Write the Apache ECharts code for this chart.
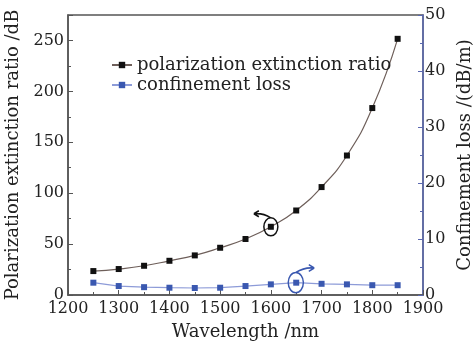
<!DOCTYPE html>
<html>
<head>
<meta charset="utf-8">
<script src="https://cdn.jsdelivr.net/npm/echarts@6/dist/echarts.min.js"></script>
<style>
  html, body { margin: 0; padding: 0; background: #fff; }
  #chart { width: 473px; height: 348px; }
</style>
</head>
<body>
<div id="chart"></div>
<script>
// wavelengths (nm)
const wavelengths = [1250, 1300, 1350, 1400, 1450, 1500, 1550, 1600, 1650, 1700, 1750, 1800, 1850];
// polarization extinction ratio (dB), left axis
const extinctionRatio = [23.5, 25.5, 28.7, 33.6, 38.9, 46.4, 55, 67, 83, 106, 137, 183.6, 251.6];
// confinement loss (dB/m), right axis
const confinementLoss = [2.2, 1.6, 1.4, 1.3, 1.25, 1.3, 1.6, 1.9, 2.2, 2.0, 1.9, 1.75, 1.75];

const FONT = "DejaVu Serif";
const TEXT = "#222";
const AXIS_GRAY = "#555";
const AXIS_BLUE = "#5a68b0";

// ring with a curved arrow leaving to the left / right
const ringLeft = "path://M27 26A7 9 0 1 1 13 26A7 9 0 1 1 27 26ZM20 17Q12 12 3 13M3 13L8 10M3 13L8 16";
const ringRight = "path://M13 26A7 9 0 1 1 27 26A7 9 0 1 1 13 26ZM20 17Q28 12 37 13M37 13L32 10M37 13L32 16";

const chart = echarts.init(document.getElementById("chart"));

chart.setOption({
  animation: false,
  textStyle: { fontFamily: FONT },
  grid: {
    left: 68, right: 50, top: 15, bottom: 53,
    outerBoundsMode: "none",
    show: true, borderColor: AXIS_GRAY, borderWidth: 1.5
  },
  legend: {
    orient: "vertical",
    left: 106, top: 51,
    itemGap: 2,
    itemWidth: 20, itemHeight: 8,
    textStyle: { fontFamily: FONT, fontSize: 18, color: TEXT },
    data: ["polarization extinction ratio", "confinement loss"]
  },
  xAxis: {
    type: "value",
    min: 1200, max: 1900, interval: 100,
    name: "Wavelength /nm",
    nameLocation: "middle",
    nameGap: 28,
    nameTextStyle: { fontFamily: FONT, fontSize: 18, color: TEXT },
    axisLine: { lineStyle: { color: AXIS_GRAY, width: 1.5 } },
    axisTick: { inside: true, length: 5, lineStyle: { color: AXIS_GRAY } },
    minorTick: { show: true, splitNumber: 2, length: 3, lineStyle: { color: AXIS_GRAY } },
    axisLabel: { fontFamily: FONT, fontSize: 16, color: TEXT, margin: 6, formatter: (v) => String(v) },
    splitLine: { show: false }
  },
  yAxis: [
    {
      type: "value",
      min: 0, max: 275, interval: 50,
      name: "Polarization extinction ratio /dB",
      nameLocation: "middle",
      nameGap: 44,
      nameTextStyle: { fontFamily: FONT, fontSize: 18, color: TEXT },
      axisLine: { show: true, lineStyle: { color: AXIS_GRAY, width: 1.5 } },
      axisTick: { inside: true, length: 5, lineStyle: { color: AXIS_GRAY } },
      minorTick: { show: true, splitNumber: 2, length: 3, lineStyle: { color: AXIS_GRAY } },
      axisLabel: { fontFamily: FONT, fontSize: 16, color: TEXT, margin: 4, showMaxLabel: false },
      splitLine: { show: false }
    },
    {
      type: "value",
      min: 0, max: 50, interval: 10,
      position: "right",
      name: "Confinement loss /(dB/m)",
      nameLocation: "middle",
      nameGap: 30,
      nameRotate: 90,
      nameTextStyle: { fontFamily: FONT, fontSize: 18, color: TEXT },
      axisLine: { show: true, lineStyle: { color: AXIS_BLUE, width: 1.5 } },
      axisTick: { inside: true, length: 5, lineStyle: { color: AXIS_BLUE } },
      minorTick: { show: true, splitNumber: 2, length: 3, lineStyle: { color: AXIS_BLUE } },
      axisLabel: { fontFamily: FONT, fontSize: 16, color: TEXT, margin: 2 },
      splitLine: { show: false }
    }
  ],
  series: [
    {
      name: "polarization extinction ratio",
      type: "line",
      yAxisIndex: 0,
      smooth: true,
      symbol: "rect",
      symbolSize: 6,
      data: wavelengths.map((w, i) => [w, extinctionRatio[i]]),
      lineStyle: { color: "#6e5f5a", width: 1.2 },
      itemStyle: { color: "#111" },
      markPoint: {
        silent: true,
        symbol: ringLeft,
        symbolSize: [24, 25],
        symbolOffset: [-5, -3.5],
        itemStyle: { color: "none", borderColor: "#111", borderWidth: 1.5 },
        label: { show: false },
        data: [{ coord: [wavelengths[7], extinctionRatio[7]] }]
      }
    },
    {
      name: "confinement loss",
      type: "line",
      yAxisIndex: 1,
      symbol: "rect",
      symbolSize: 6,
      data: wavelengths.map((w, i) => [w, confinementLoss[i]]),
      lineStyle: { color: "#8d9bd8", width: 1.2 },
      itemStyle: { color: "#3a58b0" },
      markPoint: {
        silent: true,
        symbol: ringRight,
        symbolSize: [26, 28],
        symbolOffset: [5, -4],
        itemStyle: { color: "none", borderColor: "#3a58b0", borderWidth: 1.5 },
        label: { show: false },
        data: [{ coord: [wavelengths[8], confinementLoss[8]] }]
      }
    }
  ]
});
</script>
</body>
</html>
